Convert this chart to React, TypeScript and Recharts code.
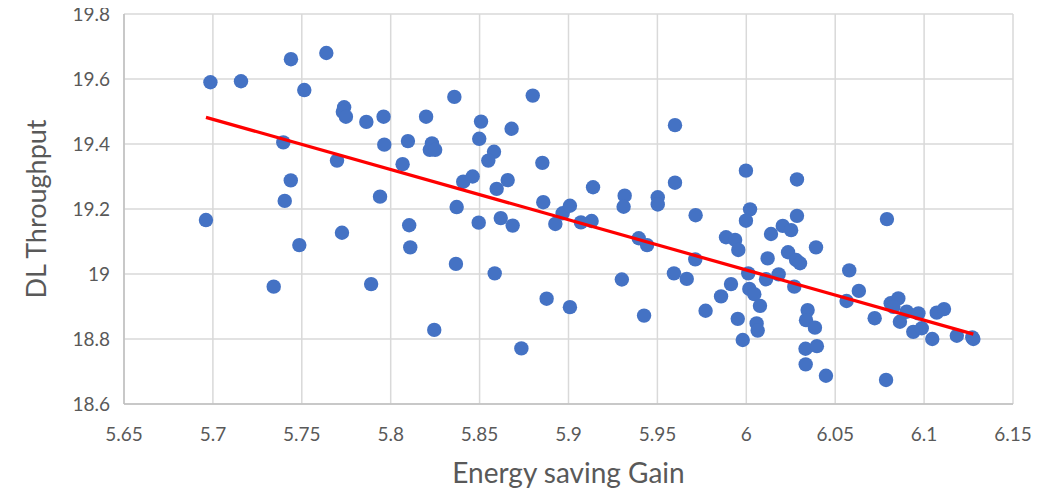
import { ScatterChart, Scatter, XAxis, YAxis, CartesianGrid } from 'recharts';

// Energy saving gain (x) and DL throughput (y)
const gain = [
  5.6986, 5.7158, 5.7439, 5.7638, 5.7514, 5.7738, 5.7731, 5.7748, 5.7863, 5.796,
  5.8199, 5.7396, 5.7698, 5.7964, 5.8097, 5.8232, 5.822, 5.825, 5.8067, 5.7438,
  5.7404, 5.794, 5.6961, 5.8104, 5.7726, 5.7486, 5.811, 5.7342, 5.789, 5.8245,
  5.8358, 5.8508, 5.8498, 5.868, 5.8799, 5.8581, 5.8549, 5.8408, 5.8461, 5.8658,
  5.8596, 5.8853, 5.8371, 5.8495, 5.8619, 5.8686, 5.8858, 5.8926, 5.8967, 5.9008,
  5.907, 5.913, 5.9138, 5.9316, 5.931, 5.9502, 5.9502, 5.9599, 5.9599, 5.9715,
  5.9395, 5.9442, 5.9713, 5.9886, 5.9937, 5.9955, 5.8367, 5.8585, 5.93, 5.9593,
  5.9665, 5.9914, 5.8735, 5.8877, 5.9008, 5.9425, 5.9771, 5.9858, 5.9952, 5.998,
  5.9998, 6.0285, 6.0021, 5.9998, 6.0285, 6.0205, 6.0252, 6.0139, 6.0392, 6.0235,
  6.028, 6.0302, 6.012, 6.0579, 6.0011, 6.0182, 6.0111, 6.027, 6.0017, 6.0045,
  6.0077, 6.0633, 6.0564, 6.0812, 6.0855, 6.0827, 6.0902, 6.0968, 6.0864, 6.0939,
  6.0987, 6.1046, 6.1071, 6.1112, 6.0722, 6.1184, 6.1271, 6.1277, 6.0345, 6.0336,
  6.0386, 6.0058, 6.0064, 6.0333, 6.0397, 6.0334, 6.0448, 6.0786, 6.0791,
];

const throughput = [
  19.59, 19.593, 19.661, 19.68, 19.566, 19.513, 19.499, 19.484, 19.468, 19.484,
  19.484, 19.405, 19.349, 19.398, 19.409, 19.402, 19.382, 19.382, 19.338, 19.288,
  19.225, 19.238, 19.166, 19.15, 19.127, 19.089, 19.082, 18.961, 18.969, 18.828,
  19.545, 19.469, 19.416, 19.447, 19.549, 19.376, 19.349, 19.284, 19.3, 19.289,
  19.262, 19.342, 19.206, 19.158, 19.172, 19.149, 19.221, 19.154, 19.187, 19.21,
  19.159, 19.163, 19.267, 19.241, 19.207, 19.236, 19.214, 19.458, 19.281, 19.181,
  19.11, 19.089, 19.045, 19.113, 19.105, 19.074, 19.031, 19.002, 18.983, 19.002,
  18.985, 18.969, 18.771, 18.924, 18.898, 18.872, 18.887, 18.931, 18.862, 18.797,
  19.318, 19.291, 19.199, 19.164, 19.179, 19.148, 19.135, 19.123, 19.082, 19.067,
  19.043, 19.033, 19.048, 19.011, 19.002, 18.999, 18.984, 18.961, 18.954, 18.938,
  18.902, 18.948, 18.917, 18.91, 18.925, 18.899, 18.884, 18.879, 18.853, 18.822,
  18.833, 18.8, 18.881, 18.892, 18.864, 18.81, 18.805, 18.8, 18.889, 18.858,
  18.835, 18.848, 18.826, 18.77, 18.778, 18.722, 18.687, 18.674, 19.169,
];

// linear trendline ends, as drawn in the source chart
const trendGain = [5.6961, 6.1277];
const trendThroughput = [19.482, 18.815];

const xTicks = [5.65, 5.7, 5.75, 5.8, 5.85, 5.9, 5.95, 6, 6.05, 6.1, 6.15];
const yTicks = [18.6, 18.8, 19, 19.2, 19.4, 19.6, 19.8];

const points = gain.map((x, i) => ({ x, y: throughput[i] }));
const trend = trendGain.map((x, i) => ({ x, y: trendThroughput[i] }));

const font = 'Lato, "Noto Sans", sans-serif';
const tickStyle = { fill: '#595959', fontSize: 19, fontFamily: font };

const Dot = (props: any) => <circle cx={props.cx} cy={props.cy} r={7.2} fill="#4472C4" />;

export default function App() {
  return (
    <div style={{ margin: '-8px 0 0 -8px' }}>
      <ScatterChart width={1061} height={489} margin={{ top: 14, right: 48, bottom: 0, left: 0 }}>
        <CartesianGrid stroke="#d9d9d9" strokeWidth={1.5} />
        <XAxis
          type="number"
          dataKey="x"
          domain={[5.65, 6.15]}
          ticks={xTicks}
          interval={0}
          height={85}
          tickSize={0}
          tickMargin={24}
          tickLine={false}
          axisLine={{ stroke: '#bfbfbf', strokeWidth: 1.5 }}
          tick={tickStyle}
          label={{
            value: 'Energy saving Gain',
            position: 'insideBottom',
            offset: 6,
            style: { fill: '#595959', fontSize: 28, fontFamily: font },
          }}
        />
        <YAxis
          type="number"
          dataKey="y"
          domain={[18.6, 19.8]}
          ticks={yTicks}
          interval={0}
          width={124}
          tickSize={0}
          tickMargin={14}
          tickLine={false}
          axisLine={{ stroke: '#bfbfbf', strokeWidth: 1.5 }}
          tick={tickStyle}
          label={{
            value: 'DL Throughput',
            angle: -90,
            position: 'insideLeft',
            offset: 36,
            style: { fill: '#595959', fontSize: 27, fontFamily: font, textAnchor: 'middle' },
          }}
        />
        <Scatter data={points} shape={Dot} isAnimationActive={false} />
        <Scatter
          data={trend}
          line={{ stroke: '#FF0000', strokeWidth: 3.2 }}
          shape={() => <g />}
          isAnimationActive={false}
        />
      </ScatterChart>
    </div>
  );
}
